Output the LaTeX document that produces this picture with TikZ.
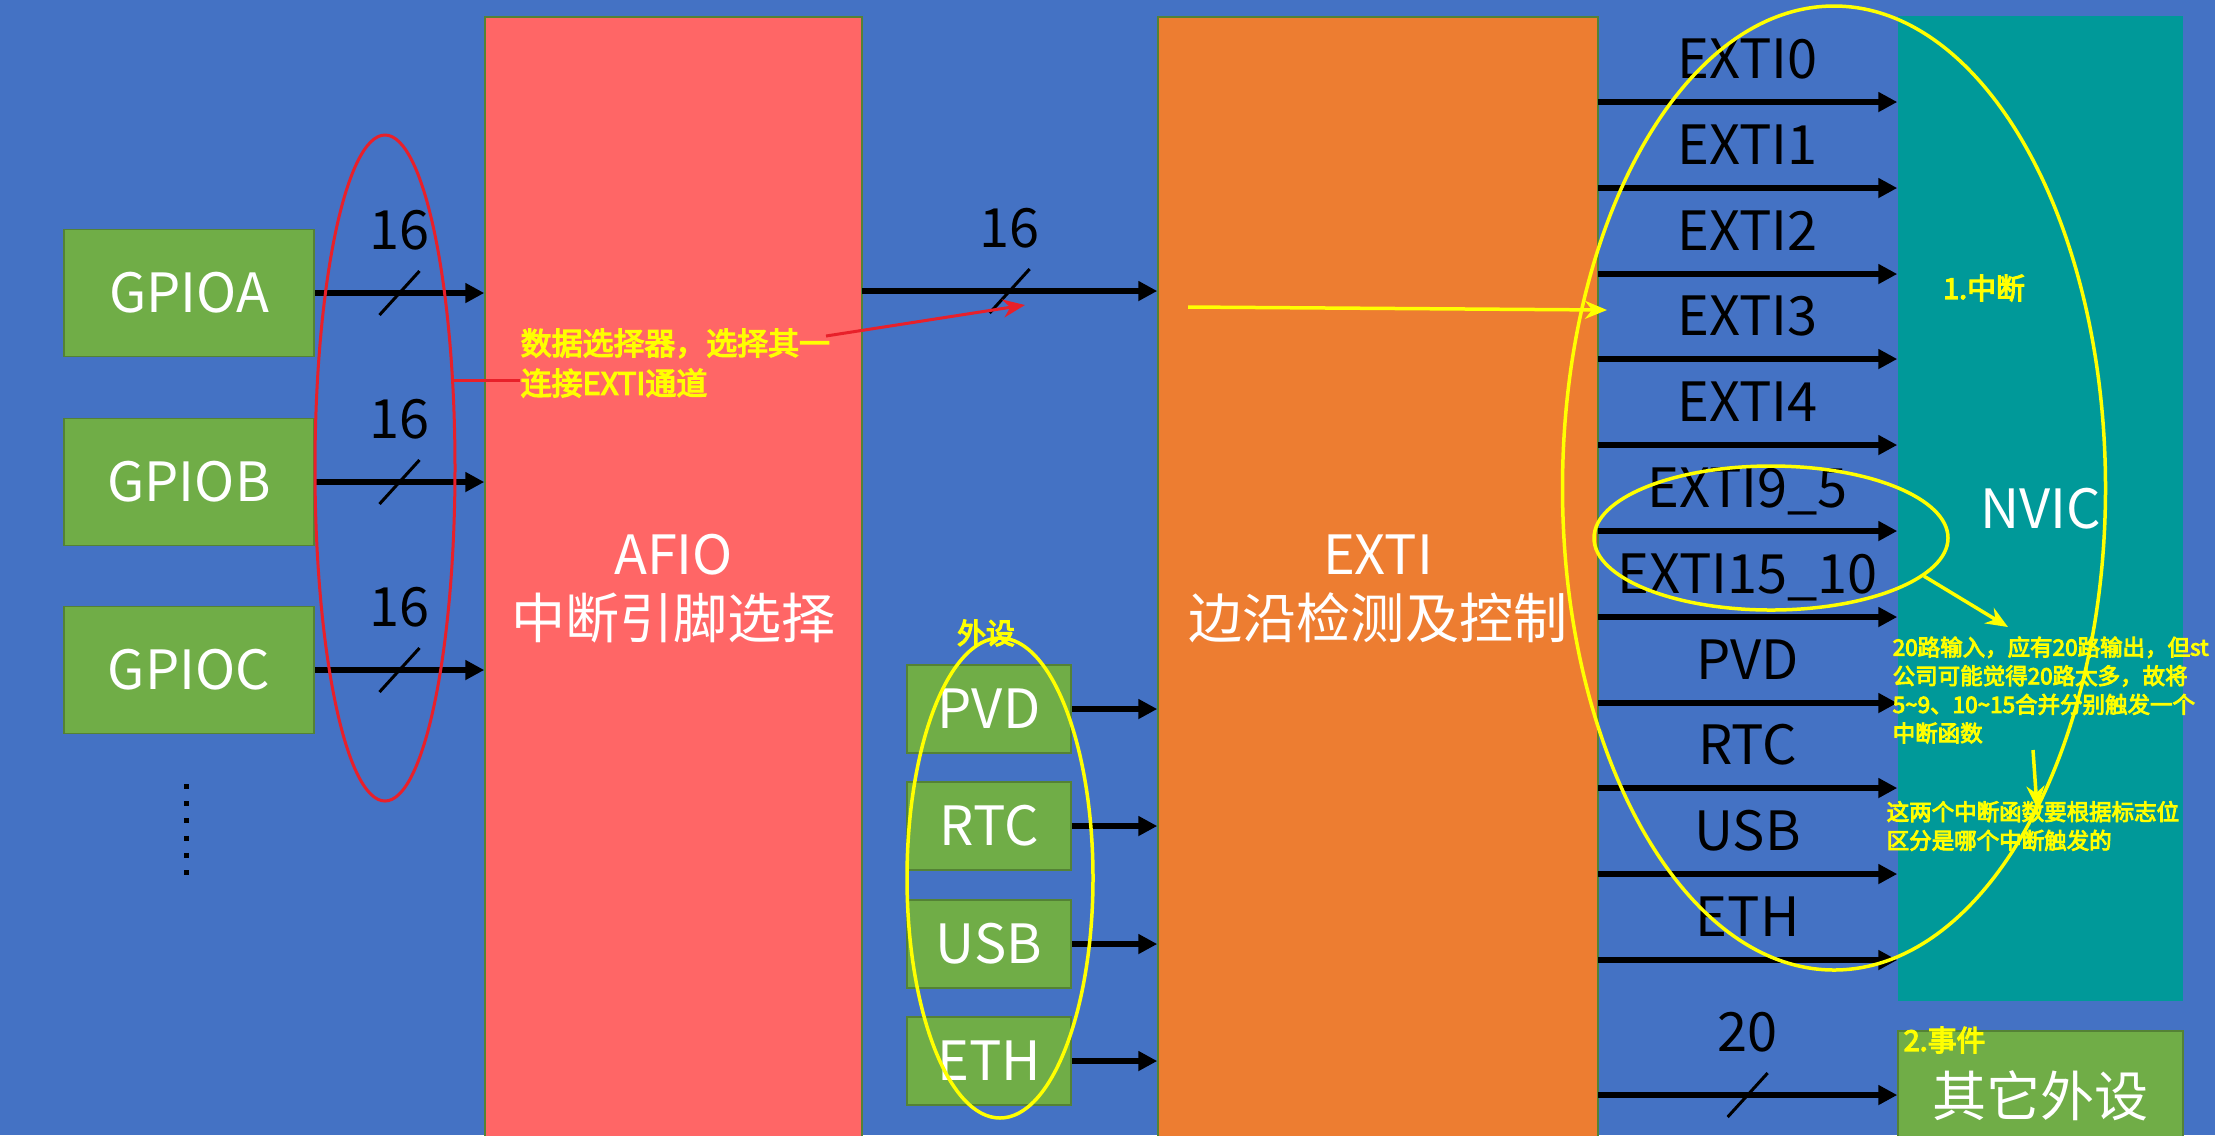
\documentclass[tikz,border=0pt]{standalone}
\usepackage{fontspec}
\setmainfont{Noto Sans CJK SC}[AutoFakeBold=4]
\usetikzlibrary{arrows.meta,shapes.geometric}

\definecolor{bgblue}{HTML}{4472C4}
\definecolor{afiored}{HTML}{FF6666}
\definecolor{extiorange}{HTML}{ED7D31}
\definecolor{nvicteal}{HTML}{009999}
\definecolor{boxgreen}{HTML}{70AD47}
\definecolor{edgegreen}{HTML}{548235}
\definecolor{markred}{HTML}{E8202A}
\definecolor{markyellow}{HTML}{FFFF00}

\newcommand{\boxfont}{\fontsize{15.4pt}{18.2pt}\selectfont}
\newcommand{\selnotefont}{\bfseries\fontsize{8.8pt}{11.4pt}\selectfont}
\newcommand{\tagsfont}{\bfseries\fontsize{8.2pt}{9.6pt}\selectfont}
\newcommand{\remarkfont}{\bfseries\fontsize{6.4pt}{8.15pt}\selectfont}

\begin{document}
\begin{tikzpicture}[x=0.1mm, y=-0.1mm, >={Triangle[length=1.9mm,width=1.9mm]},
  blk/.style={draw=edgegreen, line width=0.15mm, inner sep=0pt, text=white, font=\boxfont, align=center},
  gpiobox/.style={blk, fill=boxgreen, minimum width=25mm, minimum height=12.7mm},
  perbox/.style={blk, fill=boxgreen, minimum width=16.4mm, minimum height=8.8mm},
  wire/.style={->, line width=0.6mm, black},
  busslash/.style={line width=0.3mm, black},
  buslabel/.style={midway, anchor=base, yshift=4.4mm, text=black, font=\boxfont},
  outlabel/.style={midway, anchor=base, yshift=2.4mm, text=black, font=\boxfont},
  rring/.style={ellipse, draw=markred, line width=0.3mm, inner sep=0pt},
  yring/.style={ellipse, draw=markyellow, line width=0.35mm, inner sep=0pt},
  ynote/.style={text=markyellow, inner sep=0pt, align=left},
  rarrow/.style={markred, line width=0.3mm},
  yarrow/.style={markyellow, line width=0.35mm, -{Stealth[length=2.2mm,width=1.8mm]}}]
  \useasboundingbox (0,0) rectangle (2215,1135);
  \clip (0,0) rectangle (2215,1135);
  \fill[bgblue] (0,0) rectangle (2215,1135);

  % GPIO ports
  \node[gpiobox] (gpioa) at (189,293) {GPIOA};
  \node[gpiobox] (gpiob) at (189,482) {GPIOB};
  \node[gpiobox] (gpioc) at (189,670) {GPIOC};
  \coordinate (moretop) at (186,784);
  \coordinate (morebot) at (186,876);
  \draw[line width=0.5mm, dash pattern=on 0.5mm off 1.22mm] (moretop) -- (morebot);

  % main blocks
  \node[blk, fill=afiored, minimum width=37.7mm, minimum height=114.3mm] (afio) at (673.5,588.5) {AFIO\\中断引脚选择};
  \node[blk, fill=extiorange, minimum width=44mm, minimum height=114.3mm] (exti) at (1378,588.5) {EXTI\\边沿检测及控制};
  \node[blk, fill=nvicteal, draw=none, minimum width=28.5mm, minimum height=98.5mm] (nvic) at (2040.5,508.5) {NVIC};
  \node[blk, fill=boxgreen, minimum width=28.5mm, minimum height=12.9mm] (other) at (2040.5,1095.5) {其它外设};

  % peripherals
  \node[perbox] (pvd) at (989,709) {PVD};
  \node[perbox] (rtc) at (989,826) {RTC};
  \node[perbox] (usb) at (989,944) {USB};
  \node[perbox] (eth) at (989,1061) {ETH};

  % GPIO -> AFIO
  \draw[wire] (gpioa) -- coordinate[midway] (sa) node[buslabel] {16} (afio.west |- gpioa);
  \draw[wire] (gpiob) -- coordinate[midway] (sb) node[buslabel] {16} (afio.west |- gpiob);
  \draw[wire] (gpioc) -- coordinate[midway] (sc) node[buslabel] {16} (afio.west |- gpioc);
  \draw[busslash] ([shift={(-2mm,-2.2mm)}]sa) -- ([shift={(2mm,2.2mm)}]sa);
  \draw[busslash] ([shift={(-2mm,-2.2mm)}]sb) -- ([shift={(2mm,2.2mm)}]sb);
  \draw[busslash] ([shift={(-2mm,-2.2mm)}]sc) -- ([shift={(2mm,2.2mm)}]sc);

  % AFIO -> EXTI
  \coordinate (busin) at (862,291);
  \draw[wire] (busin) -- coordinate[midway] (sd) node[buslabel] {16} (exti.west |- busin);
  \draw[busslash] ([shift={(-2mm,-2.2mm)}]sd) -- ([shift={(2mm,2.2mm)}]sd);

  % peripherals -> EXTI
  \draw[wire] (pvd) -- (exti.west |- pvd);
  \draw[wire] (rtc) -- (exti.west |- rtc);
  \draw[wire] (usb) -- (exti.west |- usb);
  \draw[wire] (eth) -- (exti.west |- eth);

  % EXTI -> NVIC
  \coordinate (o0) at (1598,102);
  \coordinate (o1) at (1598,188);
  \coordinate (o2) at (1598,274);
  \coordinate (o3) at (1598,359);
  \coordinate (o4) at (1598,445);
  \coordinate (o5) at (1598,531);
  \coordinate (o6) at (1598,617);
  \coordinate (o7) at (1598,703);
  \coordinate (o8) at (1598,788);
  \coordinate (o9) at (1598,874);
  \coordinate (o10) at (1598,960);
  \coordinate (o11) at (1598,1095);
  \draw[wire] (o0) -- node[outlabel] {EXTI0} (nvic.west |- o0);
  \draw[wire] (o1) -- node[outlabel] {EXTI1} (nvic.west |- o1);
  \draw[wire] (o2) -- node[outlabel] {EXTI2} (nvic.west |- o2);
  \draw[wire] (o3) -- node[outlabel] {EXTI3} (nvic.west |- o3);
  \draw[wire] (o4) -- node[outlabel] {EXTI4} (nvic.west |- o4);
  \draw[wire] (o5) -- node[outlabel] {EXTI9\_5} (nvic.west |- o5);
  \draw[wire] (o6) -- node[outlabel] {EXTI15\_10} (nvic.west |- o6);
  \draw[wire] (o7) -- node[outlabel] {PVD} (nvic.west |- o7);
  \draw[wire] (o8) -- node[outlabel] {RTC} (nvic.west |- o8);
  \draw[wire] (o9) -- node[outlabel] {USB} (nvic.west |- o9);
  \draw[wire] (o10) -- node[outlabel] {ETH} (nvic.west |- o10);
  \draw[wire] (o11) -- coordinate[midway] (se) node[buslabel] {20} (other.west |- o11);
  \draw[busslash] ([shift={(-2mm,-2.2mm)}]se) -- ([shift={(2mm,2.2mm)}]se);

  % red remark on the pin selection
  \node[rring, minimum width=14mm, minimum height=66.6mm] (sel) at (385,468) {};
  \node[ynote, font=\selnotefont, anchor=west] (selnote) at (520,363) {数据选择器，选择其一\\连接EXTI通道};
  \coordinate (r1) at (453,380);
  \coordinate (r3) at (826,336);
  \coordinate (r4) at (1025,305);
  \draw[rarrow] (r1) -- (selnote.west |- r1);
  \draw[rarrow, -{Stealth[length=2.2mm,width=1.8mm]}] (r3) -- (r4);

  % yellow remarks
  \node[yring, minimum width=18.6mm, minimum height=48mm] (periring) at (1000,878) {};
  \node[ynote, font=\tagsfont] (peritag) at (986,633) {外设};
  \node[yring, minimum width=54.3mm, minimum height=96.4mm] (irqring) at (1834,488) {};
  \node[yring, minimum width=35.4mm, minimum height=14.4mm] (mergering) at (1771,538) {};
  \node[ynote, font=\tagsfont] (irqtag) at (1984,288) {1.中断};
  \node[ynote, font=\tagsfont, anchor=west] (evttag) at (1903,1040) {2.事件};
  \coordinate (y1) at (1188,307);
  \coordinate (y2) at (1607,310);
  \draw[yarrow] (y1) -- (y2);
  \node[ynote, font=\remarkfont, anchor=west] (mergenote) at (1892,690) {20路输入，应有20路输出，但st\\公司可能觉得20路太多，故将\\5\textasciitilde9、10\textasciitilde15合并分别触发一个\\中断函数};
  \node[ynote, font=\remarkfont, anchor=west] (flagnote) at (1886,826) {这两个中断函数要根据标志位\\区分是哪个中断触发的};
  \coordinate (y3) at (2008,627);
  \coordinate (y4) at (2033,750);
  \coordinate (y5) at (2037,808);
  \draw[yarrow] (mergering.-14) -- (y3);
  \draw[yarrow] (y4) -- (y5);
\end{tikzpicture}
\end{document}
